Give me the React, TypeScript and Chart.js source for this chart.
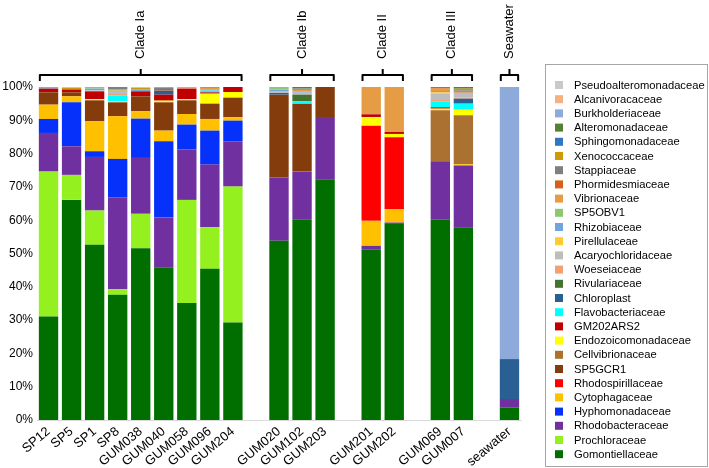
import { useEffect, useRef } from "react";
import { Chart, registerables } from "chart.js";

Chart.register(...registerables);

const FONT = "'Liberation Sans', Arial, sans-serif";

// Samples in plotting order (groups separated by an empty slot)
const samples = [
  "SP12", "SP5", "SP1", "SP8", "GUM038", "GUM040", "GUM058", "GUM096", "GUM204",
  "GUM020", "GUM102", "GUM203",
  "GUM201", "GUM202",
  "GUM069", "GUM007",
  "seawater",
];
const groupNames = ["Clade Ia", "Clade Ib", "Clade II", "Clade III", "Seawater"];
const groupSizes = [9, 3, 2, 2, 1];
const yTickStep = 10;

// Families, bottom of stack -> top of stack
const families = [
  "Gomontiellaceae", "Prochloraceae", "Rhodobacteraceae", "Hyphomonadaceae", "Cytophagaceae",
  "Rhodospirillaceae", "SP5GCR1", "Cellvibrionaceae", "Endozoicomonadaceae", "GM202ARS2",
  "Flavobacteriaceae", "Chloroplast", "Rivulariaceae", "Woeseiaceae", "Acaryochloridaceae",
  "Pirellulaceae", "Rhizobiaceae", "SP5OBV1", "Vibrionaceae", "Phormidesmiaceae",
  "Stappiaceae", "Xenococcaceae", "Sphingomonadaceae", "Alteromonadaceae", "Burkholderiaceae",
  "Alcanivoracaceae", "Pseudoalteromonadaceae",
];
const familyColors = [
  "#006F00", "#94F01E", "#7030A0", "#0531FA", "#FFC000",
  "#FF0000", "#843C0C", "#AA7131", "#FFFF00", "#C00000",
  "#00FFFF", "#2A5F93", "#45722E", "#F4A072", "#BDBDBD",
  "#FFCB35", "#72A5DC", "#8CC874", "#E59C45", "#D8601E",
  "#7F7F7F", "#CC9A06", "#2D77C3", "#548235", "#8EAADB",
  "#F4B183", "#C9C9C9",
];

// Relative abundance (%) per sample, same order as `samples`
const Gomontiellaceae = [31.1, 66.1, 52.6, 37.6, 51.6, 45.9, 35.1, 45.4, 29.3, 53.8, 60.3, 72.3, 51.3, 58.9, 60.1, 57.9, 3.8];
const Prochloraceae = [43.5, 7.5, 10.3, 1.7, 10.3, 0, 31.0, 12.5, 40.8, 0, 0, 0, 0, 0, 0, 0, 0];
const Rhodobacteraceae = [11.6, 8.6, 16.1, 27.6, 16.8, 14.9, 15.1, 18.8, 13.6, 19.0, 14.3, 18.4, 1.0, 0.4, 17.6, 18.5, 2.5];
const Hyphomonadaceae = [4.2, 13.2, 1.7, 11.5, 11.8, 22.9, 7.5, 10.2, 6.2, 0, 0, 0, 0, 0, 0, 0, 0];
const Cytophagaceae = [4.3, 1.8, 9.0, 12.8, 2.2, 3.2, 3.2, 3.5, 1.0, 0, 0, 0, 7.5, 4.0, 0, 0.4, 0];
const Rhodospirillaceae = [0, 0, 0, 0, 0, 0, 0, 0, 0, 0, 0, 0, 28.6, 21.6, 0, 0, 0];
const SP5GCR1 = [3.7, 1.2, 6.3, 4.2, 4.5, 8.5, 4.1, 4.6, 5.9, 24.9, 20.4, 9.3, 0, 0, 0, 0, 0];
const Cellvibrionaceae = [0, 0, 0, 0, 0, 0, 0, 0, 0, 0, 0, 0, 0, 0, 15.3, 14.7, 0];
const Endozoicomonadaceae = [0, 0, 0.4, 0.4, 0, 0.5, 0.4, 3.0, 1.7, 0, 0, 0, 2.6, 1.0, 0.5, 1.7, 0];
const GM202ARS2 = [1.1, 0.8, 2.3, 0, 1.5, 1.8, 3.1, 0.4, 1.5, 0, 0, 0, 0.8, 0.6, 0.4, 0, 0];
const Flavobacteriaceae = [0, 0, 0, 1.7, 0, 0, 0, 0.5, 0, 0, 0.7, 0, 0, 0, 1.8, 1.8, 0];
const Chloroplast = [0, 0, 0, 0, 0, 1.2, 0, 0, 0, 0.5, 0, 0, 0, 0, 0, 1.5, 12.0];
const Rivulariaceae = [0, 0, 0, 0, 0, 0, 0, 0, 0, 0, 2.0, 0, 0, 0, 0, 0, 0];
const Woeseiaceae = [0, 0, 0, 0.4, 0, 0, 0.5, 0, 0, 0, 0, 0, 0, 0, 0.4, 0.3, 0];
const Acaryochloridaceae = [0, 0, 0.3, 0.4, 0, 0, 0, 0, 0, 0.4, 0.6, 0, 0, 0, 2.0, 1.5, 0];
const Pirellulaceae = [0, 0, 0, 0, 0, 0, 0, 0, 0, 0, 0, 0, 0, 0, 0.3, 0, 0];
const Rhizobiaceae = [0.3, 0, 0.5, 0.3, 0.6, 0, 0, 0.4, 0, 0.6, 0.3, 0, 0, 0, 0.4, 0, 0];
const SP5OBV1 = [0, 0, 0.5, 0.3, 0, 0, 0, 0, 0, 0.8, 0, 0, 0, 0, 0, 0, 0];
const Vibrionaceae = [0, 0, 0, 0.5, 0, 0, 0, 0.4, 0, 0, 0.5, 0, 8.2, 13.5, 0.7, 0, 0];
const Phormidesmiaceae = [0, 0, 0, 0, 0, 0.5, 0, 0, 0, 0, 0, 0, 0, 0, 0.5, 0.4, 0];
const Stappiaceae = [0.2, 0.2, 0, 0.6, 0, 0.3, 0, 0, 0, 0, 0, 0, 0, 0, 0, 0.3, 0];
const Xenococcaceae = [0, 0.3, 0, 0, 0.4, 0, 0, 0.3, 0, 0, 0.4, 0, 0, 0, 0, 0.5, 0];
const Sphingomonadaceae = [0, 0, 0, 0, 0, 0, 0, 0, 0, 0, 0.5, 0, 0, 0, 0, 0, 0];
const Alteromonadaceae = [0, 0, 0, 0, 0, 0, 0, 0, 0, 0, 0, 0, 0, 0, 0, 0.5, 0];
const Burkholderiaceae = [0, 0, 0, 0, 0, 0.3, 0, 0, 0, 0, 0, 0, 0, 0, 0, 0, 81.7];
const Alcanivoracaceae = [0, 0, 0, 0, 0, 0, 0, 0, 0, 0, 0, 0, 0, 0, 0, 0, 0];
const Pseudoalteromonadaceae = [0, 0.3, 0, 0, 0.3, 0, 0.5, 0, 0, 0, 0, 0, 0, 0, 0, 0, 0];

const familyValues = [
  Gomontiellaceae, Prochloraceae, Rhodobacteraceae, Hyphomonadaceae, Cytophagaceae,
  Rhodospirillaceae, SP5GCR1, Cellvibrionaceae, Endozoicomonadaceae, GM202ARS2,
  Flavobacteriaceae, Chloroplast, Rivulariaceae, Woeseiaceae, Acaryochloridaceae,
  Pirellulaceae, Rhizobiaceae, SP5OBV1, Vibrionaceae, Phormidesmiaceae,
  Stappiaceae, Xenococcaceae, Sphingomonadaceae, Alteromonadaceae, Burkholderiaceae,
  Alcanivoracaceae, Pseudoalteromonadaceae,
];

// Build category axis with empty separator slots between groups
const labels: string[] = [];
const slotSample: (number | null)[] = [];
const groupRanges: [number, number][] = [];
{
  let s = 0;
  groupSizes.forEach((n, g) => {
    if (g > 0) {
      labels.push("");
      slotSample.push(null);
    }
    const start = labels.length;
    for (let k = 0; k < n; k++) {
      labels.push(samples[s]);
      slotSample.push(s);
      s++;
    }
    groupRanges.push([start, labels.length - 1]);
  });
}

const cladePlugin = {
  id: "cladeBraces",
  afterDraw(chart: any) {
    const { ctx } = chart;
    const xs = chart.scales.x;
    const meta = chart.getDatasetMeta(0);
    ctx.save();
    ctx.strokeStyle = "#000";
    ctx.lineWidth = 2;
    ctx.lineJoin = "round";
    groupRanges.forEach(([a, b], g) => {
      const bw = meta.data[a] ? meta.data[a].width : 18;
      const xL = xs.getPixelForValue(a) - bw / 2 + 1;
      const xR = xs.getPixelForValue(b) + bw / 2 - 1;
      const xc = (xL + xR) / 2;
      const yLine = 75;
      ctx.beginPath();
      ctx.moveTo(xL, yLine + 6);
      ctx.lineTo(xL, yLine);
      ctx.lineTo(xR, yLine);
      ctx.lineTo(xR, yLine + 6);
      ctx.moveTo(xc, yLine);
      ctx.lineTo(xc, yLine - 6);
      ctx.stroke();
      ctx.save();
      ctx.translate(xc, 59);
      ctx.rotate(-Math.PI / 2);
      ctx.font = `13px ${FONT}`;
      ctx.fillStyle = "#000";
      ctx.textAlign = "left";
      ctx.textBaseline = "middle";
      ctx.fillText(groupNames[g], 0, 0);
      ctx.restore();
    });
    ctx.restore();
  },
};

const legendPlugin = {
  id: "boxLegend",
  afterDraw(chart: any) {
    const { ctx } = chart;
    const boxX = 545.5, boxY = 64.5, boxW = 162, boxH = 402;
    ctx.save();
    ctx.strokeStyle = "#A6A6A6";
    ctx.lineWidth = 1;
    ctx.strokeRect(boxX, boxY, boxW, boxH);
    ctx.font = `11.2px ${FONT}`;
    ctx.textBaseline = "middle";
    ctx.textAlign = "left";
    const ds = chart.data.datasets;
    const n = ds.length;
    const step = 14.2;
    for (let i = 0; i < n; i++) {
      const d = ds[n - 1 - i];
      const cy = 85 + i * step;
      ctx.fillStyle = d.backgroundColor;
      ctx.fillRect(555, cy - 4, 8, 8);
      ctx.fillStyle = "#000";
      ctx.fillText(d.label, 574, cy + 0.5);
    }
    ctx.restore();
  },
};

export default function App() {
  const ref = useRef<HTMLCanvasElement>(null);
  useEffect(() => {
    if (!ref.current) return;
    Chart.defaults.font.family = FONT;
    const datasets = families.map((name, i) => ({
      label: name,
      data: slotSample.map((s) => (s === null ? null : familyValues[i][s])),
      backgroundColor: familyColors[i],
      borderWidth: 0,
      barPercentage: 0.84,
      categoryPercentage: 1.0,
    }));
    const chart = new Chart(ref.current, {
      type: "bar",
      data: { labels, datasets },
      options: {
        animation: false,
        responsive: true,
        maintainAspectRatio: false,
        layout: { padding: { top: 87, right: 188, left: 0, bottom: 0 } },
        plugins: { legend: { display: false }, tooltip: { enabled: false } },
        scales: {
          x: {
            stacked: true,
            grid: { display: false, drawTicks: false },
            border: { display: true, color: "#D9D9D9", width: 1 },
            ticks: {
              autoSkip: false,
              minRotation: 40,
              maxRotation: 40,
              padding: 4,
              color: "#000",
              font: { size: 13, family: FONT },
            },
            afterFit: (s: any) => {
              s.height = 48;
            },
          },
          y: {
            stacked: true,
            min: 0,
            max: 100,
            grid: { display: false, drawTicks: false },
            border: { display: false },
            ticks: {
              stepSize: yTickStep,
              padding: 4,
              color: "#000",
              font: { size: 12, family: FONT },
              callback: (v: any) => `${v}%`,
            },
            afterFit: (s: any) => {
              s.width = 37;
            },
          },
        },
      },
      plugins: [cladePlugin, legendPlugin],
    });
    return () => chart.destroy();
  }, []);
  return (
    <div style={{ position: "fixed", left: 0, top: 0, width: 709, height: 468 }}>
      <canvas ref={ref} />
    </div>
  );
}
